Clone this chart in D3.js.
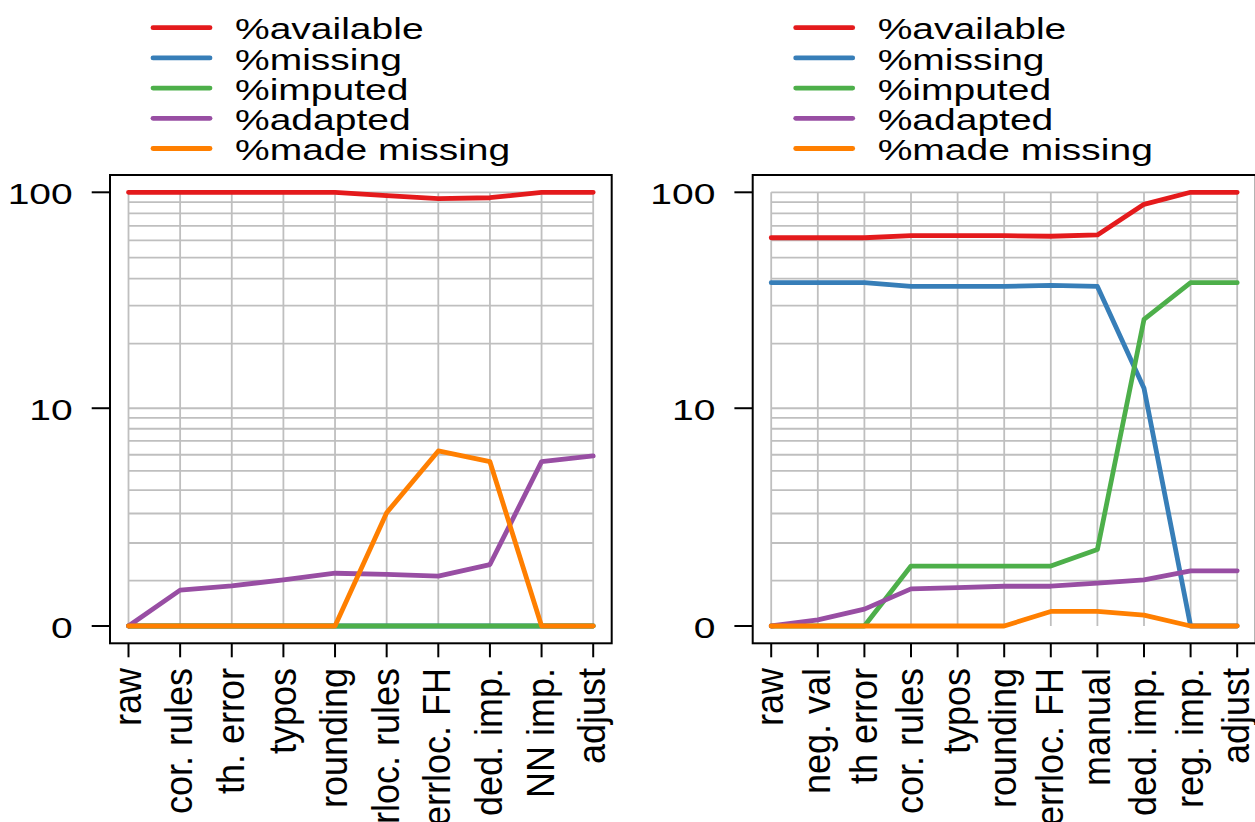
<!DOCTYPE html>
<html>
<head>
<meta charset="utf-8">
<script src="https://cdn.jsdelivr.net/npm/d3@7"></script>
<style>
  body { margin: 0; background: #fff; }
  svg { display: block; font-family: "Liberation Sans", Arial, Helvetica, sans-serif; }
</style>
</head>
<body>
<script>
// Series names shown in the legends (same order in both panels)
const seriesNames = ['%available', '%missing', '%imputed', '%adapted', '%made missing'];

// Left panel: processing steps and percentages
const leftSteps = ['raw', 'cor. rules', 'th. error', 'typos', 'rounding',
  'errloc. rules', 'errloc. FH', 'ded. imp.', 'NN imp.', 'adjust'];
const leftAvailable = [100, 100, 100, 100, 100, 96.5, 93.5, 94.4, 100, 100];
const leftMissing = [0, 0, 0, 0, 0, 0, 0, 0, 0, 0];
const leftImputed = [0, 0, 0, 0, 0, 0, 0, 0, 0, 0];
const leftAdapted = [0, 0.78, 0.88, 1.02, 1.18, 1.15, 1.11, 1.4, 5.55, 5.92];
const leftMadeMissing = [0, 0, 0, 0, 0, 3.03, 6.26, 5.55, 0, 0];

// Right panel: processing steps and percentages
const rightSteps = ['raw', 'neg. val', 'th error', 'cor. rules', 'typos', 'rounding',
  'errloc. FH', 'manual', 'ded. imp.', 'reg. imp.', 'adjust'];
const rightAvailable = [61.7, 61.7, 61.7, 63.1, 63.1, 63.1, 62.7, 63.6, 88.0, 100, 100];
const rightMissing = [38.3, 38.3, 38.3, 36.8, 36.8, 36.8, 37.2, 36.8, 12.4, 0, 0];
const rightImputed = [0, 0, 0, 1.36, 1.36, 1.36, 1.36, 1.81, 25.9, 38.3, 38.3];
const rightAdapted = [0, 0.13, 0.36, 0.81, 0.84, 0.87, 0.87, 0.94, 1.02, 1.24, 1.24];
const rightMadeMissing = [0, 0, 0, 0, 0, 0, 0.31, 0.31, 0.23, 0, 0];

// Axis labels and grid positions (values)
const yTickValues = [0, 10, 100];
const gridValues = [1, 2, 3, 4, 5, 6, 7, 8, 9, 10, 20, 30, 40, 50, 60, 70, 80, 90, 100];

const colors = ['#E41A1C', '#377EB8', '#4DAF4A', '#984EA3', '#FF7F00'];

const width = 1255;
const height = 822;
const textStretch = 1.3; // text in the picture is wider than it is tall

const svg = d3.select('body').append('svg')
  .attr('width', width)
  .attr('height', height);

// y axis is an asinh(x/2) scale: ~linear near 0, log10 above 10
const yLin = d3.scaleLinear()
  .domain([0, Math.asinh(100 / 2)])
  .range([626, 192.3]);
const yPos = (v) => yLin(Math.asinh(v / 2));

const panels = [
  {
    left: 110, right: 611.7, top: 175, bottom: 643.3,
    steps: leftSteps,
    series: [leftAvailable, leftMissing, leftImputed, leftAdapted, leftMadeMissing],
  },
  {
    left: 752.7, right: 1255.7, top: 175, bottom: 643.3,
    steps: rightSteps,
    series: [rightAvailable, rightMissing, rightImputed, rightAdapted, rightMadeMissing],
  },
];

const drawPanel = (p) => {
  const g = svg.append('g');

  const x = d3.scalePoint()
    .domain(p.steps)
    .range([p.left + 18.5, p.right - 18.5]);

  const x0 = x(p.steps[0]);
  const x1 = x(p.steps[p.steps.length - 1]);

  // grid
  g.append('g').selectAll('line.h')
    .data(gridValues)
    .join('line')
    .attr('x1', x0).attr('x2', x1)
    .attr('y1', (d) => yPos(d)).attr('y2', (d) => yPos(d))
    .attr('stroke', '#bfbfbf')
    .attr('stroke-width', 1.8);

  g.append('g').selectAll('line.v')
    .data(p.steps)
    .join('line')
    .attr('x1', (d) => x(d)).attr('x2', (d) => x(d))
    .attr('y1', yPos(0)).attr('y2', yPos(100))
    .attr('stroke', '#bfbfbf')
    .attr('stroke-width', 1.8);

  // series lines, drawn in legend order
  const line = d3.line()
    .x((d, i) => x(p.steps[i]))
    .y((d) => yPos(d));

  p.series.forEach((values, i) => {
    g.append('path')
      .datum(values)
      .attr('d', line)
      .attr('fill', 'none')
      .attr('stroke', colors[i])
      .attr('stroke-width', 4.8)
      .attr('stroke-linejoin', 'round')
      .attr('stroke-linecap', 'round');
  });

  // box
  g.append('rect')
    .attr('x', p.left).attr('y', p.top)
    .attr('width', p.right - p.left).attr('height', p.bottom - p.top)
    .attr('fill', 'none')
    .attr('stroke', '#000')
    .attr('stroke-width', 2);

  // y axis ticks and labels
  yTickValues.forEach((v) => {
    g.append('line')
      .attr('x1', p.left - 18.3).attr('x2', p.left)
      .attr('y1', yPos(v)).attr('y2', yPos(v))
      .attr('stroke', '#000').attr('stroke-width', 2);
    g.append('text')
      .attr('transform', `translate(${p.left - 37.3},${yPos(v) + 12}) scale(${textStretch},1)`)
      .attr('text-anchor', 'end')
      .attr('font-size', 30)
      .text(v);
  });

  // x axis ticks and rotated labels
  p.steps.forEach((s) => {
    g.append('line')
      .attr('x1', x(s)).attr('x2', x(s))
      .attr('y1', p.bottom).attr('y2', p.bottom + 14)
      .attr('stroke', '#000').attr('stroke-width', 2);
    g.append('text')
      .attr('transform', `translate(${x(s)},668) rotate(-90) scale(1,1.06)`)
      .attr('text-anchor', 'end')
      .attr('y', 11.5)
      .attr('font-size', 36)
      .text(s);
  });

  // legend above the box
  seriesNames.forEach((name, i) => {
    const ly = 27.7 + i * 30.2;
    g.append('line')
      .attr('x1', p.left + 43).attr('x2', p.left + 100)
      .attr('y1', ly).attr('y2', ly)
      .attr('stroke', colors[i])
      .attr('stroke-width', 4.8)
      .attr('stroke-linecap', 'round');
    g.append('text')
      .attr('transform', `translate(${p.left + 125},${ly + 11.6}) scale(${textStretch},1)`)
      .attr('font-size', 30)
      .text(name);
  });
};

panels.forEach(drawPanel);
</script>
</body>
</html>
